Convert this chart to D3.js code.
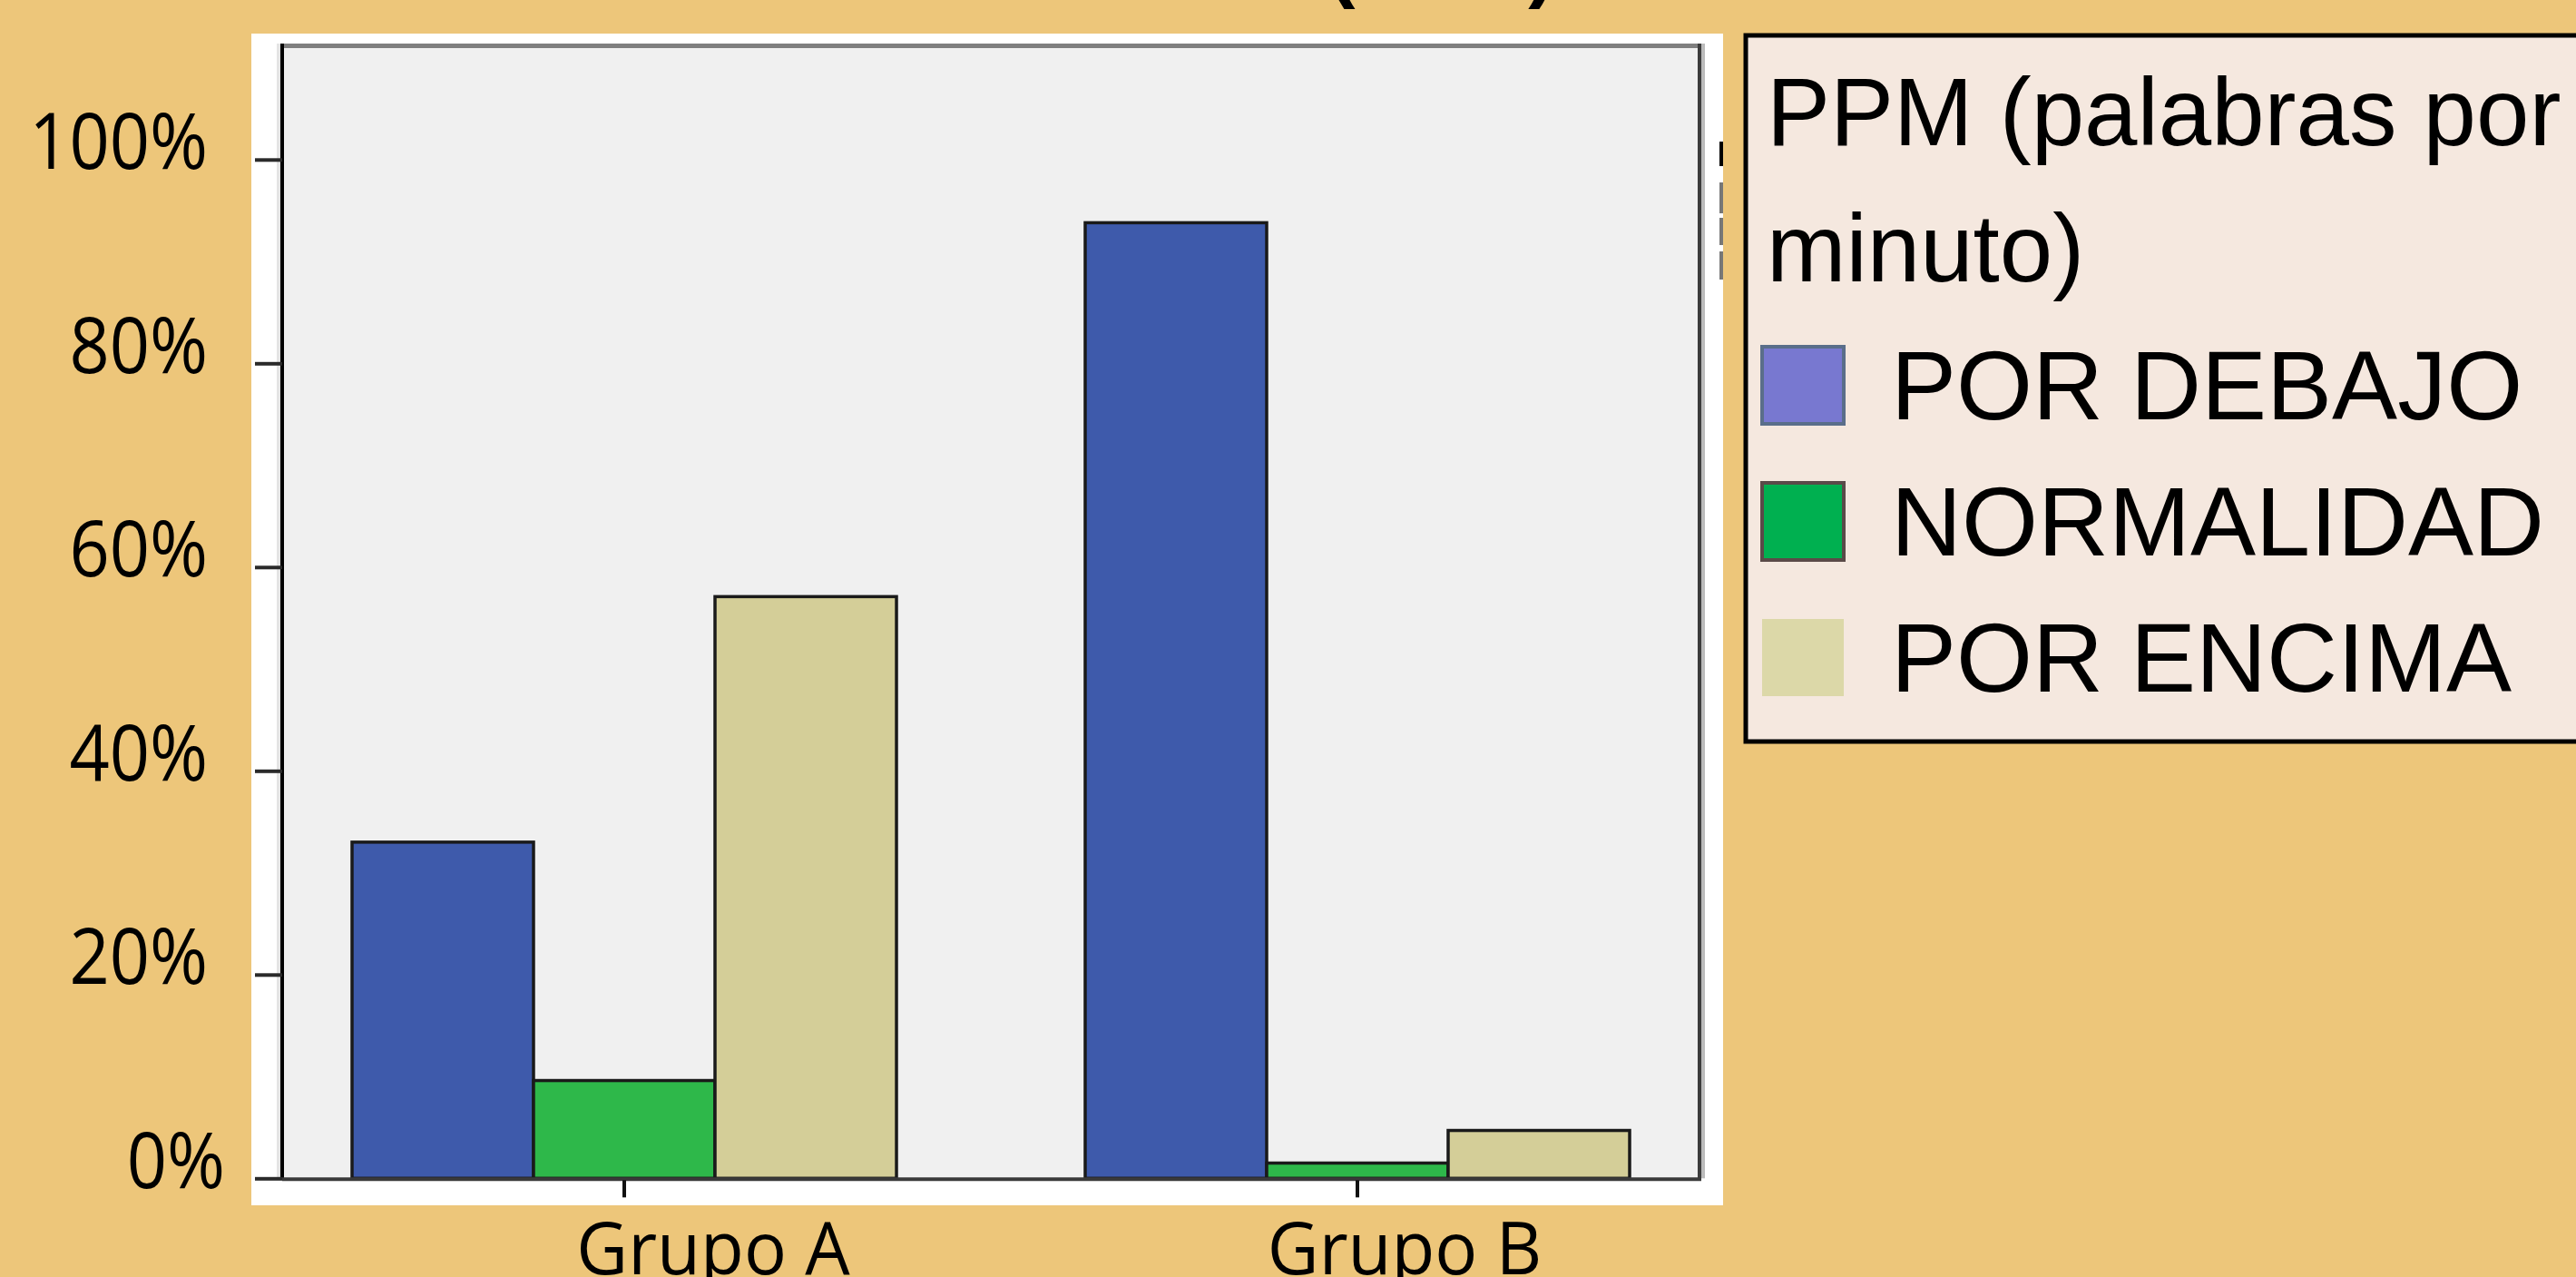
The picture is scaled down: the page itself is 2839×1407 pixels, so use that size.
<!DOCTYPE html>
<html><head><meta charset="utf-8">
<script src="https://cdn.jsdelivr.net/npm/d3@7"></script>
<style>html,body{margin:0;padding:0;background:#edc67a;overflow:hidden}</style>
</head><body><svg id="c" width="2839" height="1407"></svg>
<script>
// ---- data ----
const groups = ["Grupo A", "Grupo B"];
const series = ["POR DEBAJO", "NORMALIDAD", "POR ENCIMA"];
const porDebajo = [33.0, 93.8];
const normalidad = [9.6, 1.5];
const porEncima = [57.1, 4.7];
const yTicks = [0, 20, 40, 60, 80, 100];
const legendTitle = ["PPM (palabras por", "minuto)"];
const chartTitle = "(PPM)";

// ---- styles ----
const barColors = ["#3e5aab", "#2eb84a", "#d4ce98"];
const legendFill = ["#7878d0", "#00b050", "#dcd8a8"];
const legendStroke = ["#5a6e8a", "#5a4a48", "none"];
const labelDx = [98, 52];

const values = [porDebajo, normalidad, porEncima];
const rows = groups.map((g, gi) => ({group: g, vals: series.map((s, si) => ({s, si, v: values[si][gi]}))}));

const svg = d3.select("#c");
svg.append("rect").attr("width", 2839).attr("height", 1407).attr("fill", "#edc67a");

// title (mostly cut off above the image, as in the reference)
svg.append("text").attr("x", 1589).attr("y", -8).attr("text-anchor", "middle")
  .attr("font-family", "Liberation Sans").attr("font-weight", "bold").attr("font-size", 88)
  .attr("fill", "#000").text(chartTitle);

// white panel
svg.append("rect").attr("x", 277).attr("y", 37).attr("width", 1622).attr("height", 1291).attr("fill", "#fff");

const pLeft = 311, pRight = 1875, pTop = 48;
const y = d3.scaleLinear().domain([0, 100]).range([1298.3, 175.8]);
const x0 = d3.scaleBand().domain(groups).range([284, 1900]).paddingInner(0.2574).paddingOuter(0.1287);
const x1 = d3.scaleBand().domain(series).range([0, x0.bandwidth()]);

// plot background + frame
svg.append("rect").attr("x", 305).attr("y", pTop).attr("width", pRight - 305).attr("height", y(0) - pTop).attr("fill", "#e4e4e4");
svg.append("rect").attr("x", pLeft).attr("y", pTop).attr("width", pRight - pLeft).attr("height", y(0) - pTop).attr("fill", "#f0f0f0");
svg.append("rect").attr("x", 309).attr("y", pTop).attr("width", pRight - 309 + 1).attr("height", 5).attr("fill", "#7f7f7f");
svg.append("rect").attr("x", 1871).attr("y", pTop).attr("width", 4).attr("height", y(0) - pTop).attr("fill", "#3c3c3c");
svg.append("rect").attr("x", 1875).attr("y", pTop).attr("width", 4).attr("height", y(0) - pTop).attr("fill", "#bbbbbb");

// bars
const g = svg.append("g");
g.selectAll("g.grp").data(rows).join("g").attr("class", "grp")
  .attr("transform", d => `translate(${x0(d.group)},0)`)
  .selectAll("rect").data(d => d.vals).join("rect")
  .attr("x", d => x1(d.s)).attr("y", d => y(d.v))
  .attr("width", x1.bandwidth()).attr("height", d => y(0) - y(d.v))
  .attr("fill", d => barColors[d.si]).attr("stroke", "#1a1a1a").attr("stroke-width", 3.5);

// y axis
const yAxis = svg.append("g").attr("transform", `translate(${pLeft},0)`)
  .call(d3.axisLeft(y).tickValues(yTicks).tickFormat(d => d + "%").tickSize(30).tickSizeOuter(0).tickPadding(52));
yAxis.select(".domain").attr("stroke", "#000").attr("stroke-width", 4).attr("d", `M0,${pTop}V${y(0)}`);
yAxis.selectAll(".tick line").attr("stroke", "#2a2a2a").attr("stroke-width", 4);
yAxis.selectAll(".tick text").attr("font-family", "Open Sans").attr("font-size", 86)
  .attr("fill", "#000").attr("dy", "10px").attr("dx", d => d === 0 ? 19 : 0)
  .each(function() { const l = this.getComputedTextLength(); d3.select(this).attr("textLength", l * 0.9).attr("lengthAdjust", "spacingAndGlyphs"); });

// bottom axis line
svg.append("line").attr("x1", pLeft).attr("x2", pRight).attr("y1", y(0) + 1).attr("y2", y(0) + 1)
  .attr("stroke", "#3a3a3a").attr("stroke-width", 4);

// x axis ticks
const xAxis = svg.append("g").attr("transform", `translate(0,${y(0) + 2})`)
  .call(d3.axisBottom(x0).tickSize(19).tickSizeOuter(0).tickFormat(""));
xAxis.select(".domain").remove();
xAxis.selectAll(".tick line").attr("stroke", "#111").attr("stroke-width", 4);

// x labels
svg.selectAll("text.xl").data(groups).join("text").attr("class", "xl")
  .attr("x", (d, i) => x0(d) + x0.bandwidth() / 2 + labelDx[i]).attr("y", 1404)
  .attr("text-anchor", "middle").attr("font-family", "Open Sans").attr("font-size", 81).attr("fill", "#000")
  .text(d => d)
  .each(function() { const l = this.getComputedTextLength(); d3.select(this).attr("textLength", l * 0.965).attr("lengthAdjust", "spacingAndGlyphs"); });

// small artifacts at panel edge
svg.append("rect").attr("x", 1895).attr("y", 156).attr("width", 4).attr("height", 27).attr("fill", "#000");
[[201, 34], [240, 30], [277, 31]].forEach(([yy, h]) =>
  svg.append("rect").attr("x", 1895).attr("y", yy).attr("width", 4).attr("height", h).attr("fill", "#777"));

// legend
const lg = svg.append("g");
lg.append("rect").attr("x", 1924).attr("y", 39).attr("width", 940).attr("height", 778)
  .attr("fill", "#f5e8df").attr("stroke", "#000").attr("stroke-width", 5);
lg.selectAll("text.lt").data(legendTitle).join("text").attr("class", "lt")
  .attr("x", 1947).attr("y", (d, i) => 160 + i * 150)
  .attr("font-family", "Liberation Sans").attr("font-size", 105).attr("fill", "#000").text(d => d);
const items = lg.selectAll("g.it").data(series).join("g").attr("class", "it")
  .attr("transform", (d, i) => `translate(0,${i * 150})`);
items.append("rect").attr("x", 1942).attr("y", 382).attr("width", 90).attr("height", 85)
  .attr("fill", (d, i) => legendFill[i]).attr("stroke", (d, i) => legendStroke[i]).attr("stroke-width", 4);
items.append("text").attr("x", 2084).attr("y", 462)
  .attr("font-family", "Liberation Sans").attr("font-size", 108).attr("fill", "#000").text(d => d);
</script></body></html>
